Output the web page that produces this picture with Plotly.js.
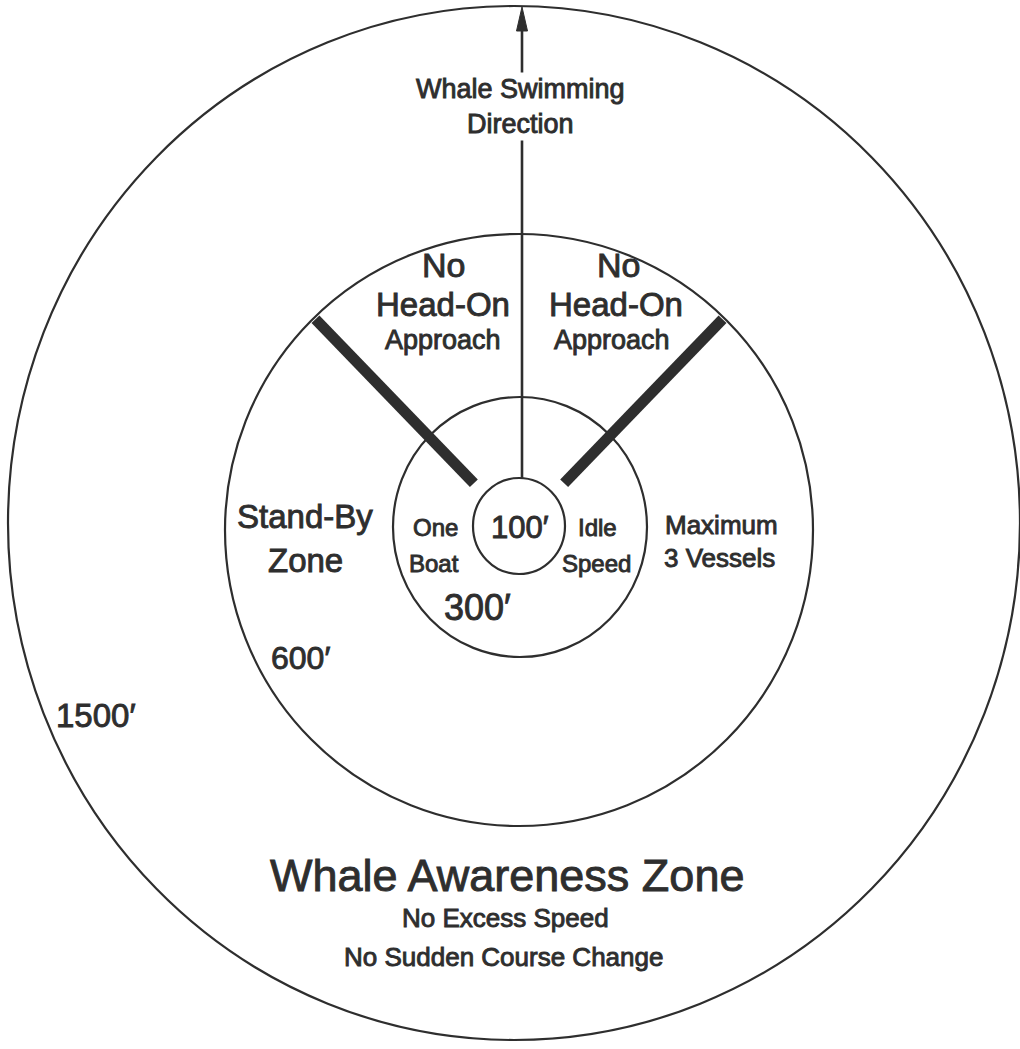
<!DOCTYPE html>
<html><head><meta charset="utf-8">
<script src="https://cdn.plot.ly/plotly-3.0.1.min.js"></script>
<style>
html,body{margin:0;padding:0;background:#fff}
#chart .annotation-text{stroke:#2e2e2e;stroke-width:0.9px;paint-order:stroke}
</style>
</head><body><div id="chart" style="width:1020px;height:1049px"></div>
<script>
// Ring data (drawing units; schematic, not to scale)
const ringNames = ["100′", "300′", "600′", "1500′"];
const ringCenterX = [519, 520, 519, 514];
const ringCenterY = [526, 527, 530, 523];
const ringRadiusX = [46, 127, 294, 506];
const ringRadiusY = [48, 130, 296, 517];
const ringLabelX = [520, 477, 300, 96];
const ringLabelY = [527, 607, 658, 715];
const ringLabelSize = [31, 36, 32, 33];

// No head-on approach boundaries (angle from straight ahead, degrees)
const barAngleDeg = [-44, 44];
const barInnerR = 65;

// Whale swimming direction arrow
const arrowX = 522;

// Text labels
const labelText = ["No", "Head-On", "Approach", "No", "Head-On", "Approach",
  "Stand-By", "Zone", "One", "Boat", "Idle", "Speed", "Maximum", "3 Vessels",
  "Whale Awareness Zone", "No Excess Speed", "No Sudden Course Change"];
const labelX = [443, 443, 443, 618, 616, 612, 305, 305, 435, 434, 597, 596, 721, 719, 507, 505, 503];
const labelY = [265, 304, 340, 265, 304, 340, 516, 560, 527, 563, 527, 563, 525, 558, 875, 918, 957];
const labelSize = [34, 33, 27, 34, 33, 27, 33, 33, 24, 24, 24, 24, 26, 26, 45, 26, 26];

const ink = "#2e2e2e";
const font = "Liberation Sans, Arial, Helvetica, sans-serif";

const shapes = [];
for (let i = ringNames.length - 1; i >= 0; i--) {
  shapes.push({type: "circle", xref: "x", yref: "y",
    x0: ringCenterX[i] - ringRadiusX[i], x1: ringCenterX[i] + ringRadiusX[i],
    y0: ringCenterY[i] - ringRadiusY[i], y1: ringCenterY[i] + ringRadiusY[i],
    line: {color: ink, width: 2.2}, fillcolor: "rgba(0,0,0,0)"});
}
// arrow line from 100' ring top to outer ring top
const arrowBottom = ringCenterY[0] - ringRadiusY[0];
const arrowTop = ringCenterY[3] - ringRadiusY[3] + 1;
shapes.push({type: "line", xref: "x", yref: "y", x0: arrowX, x1: arrowX,
  y0: arrowBottom, y1: arrowTop + 18, line: {color: ink, width: 2.6}});
shapes.push({type: "path", xref: "x", yref: "y",
  path: `M ${arrowX} ${arrowTop} L ${arrowX - 5.5} ${arrowTop + 24} L ${arrowX + 5.5} ${arrowTop + 24} Z`,
  fillcolor: ink, line: {color: ink, width: 1}});
// thick boundary bars
for (const a of barAngleDeg) {
  const r = a * Math.PI / 180;
  const cx = ringCenterX[2], cy = ringCenterY[2];
  const rOut = ringRadiusX[2] - 1;
  shapes.push({type: "line", xref: "x", yref: "y",
    x0: cx + barInnerR * Math.sin(r), y0: cy - barInnerR * Math.cos(r),
    x1: cx + rOut * Math.sin(r), y1: cy - rOut * Math.cos(r),
    line: {color: ink, width: 11}});
}

const annotations = [];
annotations.push({x: arrowX - 2, y: 106, xref: "x", yref: "y", text: "Whale Swimming<br>Direction",
  showarrow: false, bgcolor: "#ffffff", borderpad: 1, font: {family: font, size: 27, color: ink}});
for (let i = 0; i < ringNames.length; i++) {
  annotations.push({x: ringLabelX[i], y: ringLabelY[i], xref: "x", yref: "y", text: ringNames[i],
    showarrow: false, font: {family: font, size: ringLabelSize[i], color: ink}});
}
for (let i = 0; i < labelText.length; i++) {
  annotations.push({x: labelX[i], y: labelY[i], xref: "x", yref: "y", text: labelText[i],
    showarrow: false, font: {family: font, size: labelSize[i], color: ink}});
}

const layout = {
  width: 1020, height: 1049,
  margin: {l: 0, r: 0, t: 0, b: 0},
  paper_bgcolor: "#ffffff", plot_bgcolor: "#ffffff",
  xaxis: {range: [0, 1020], visible: false, fixedrange: true},
  yaxis: {range: [1049, 0], visible: false, fixedrange: true},
  showlegend: false,
  shapes: shapes,
  annotations: annotations
};
Plotly.newPlot("chart", [{x: [], y: [], type: "scatter", mode: "markers"}], layout, {staticPlot: true});
</script></body></html>
